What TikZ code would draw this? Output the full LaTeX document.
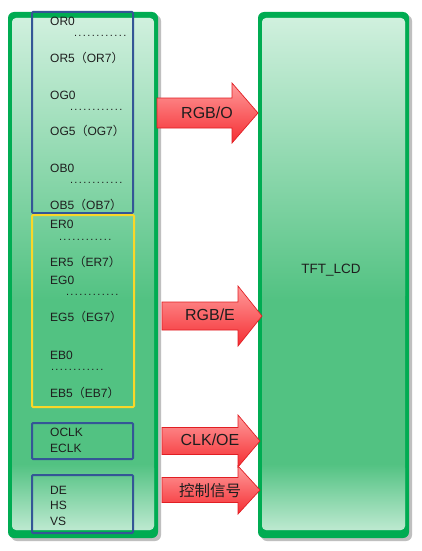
\documentclass[tikz,border=0pt]{standalone}
\usepackage{fontspec}
\setmainfont{Liberation Sans}
\newfontfamily\cjk{Noto Sans CJK SC}
\definecolor{gedge}{RGB}{0,172,82}
\definecolor{glight}{RGB}{208,240,222}
\definecolor{gmid}{RGB}{82,194,130}
\definecolor{bluebox}{RGB}{52,86,150}
\definecolor{yellowbox}{RGB}{250,215,40}
\definecolor{rlight}{RGB}{255,155,155}
\definecolor{rfill}{RGB}{245,45,50}
\definecolor{redge}{RGB}{225,30,35}
\definecolor{txt}{RGB}{30,30,30}
\newcommand\myLP{{\cjk （}}
\newcommand\myRP{{\cjk ）}}
\newcommand\mydots[1]{\makebox[#1]{\xleaders\hbox to 4.3pt{\hss.\hss}\hfill}}
\newcommand\myarrow[6]{%
  \shade[top color=rlight, bottom color=rfill, draw=redge, line width=0.7pt, line join=miter]
    (#1,#2-#3) -- (#4,#2-#3) -- (#4,#2-#5) -- (#6,#2) -- (#4,#2+#5) -- (#4,#2+#3) -- (#1,#2+#3) -- cycle;}
\newcommand\greenbox[4]{%
  \fill[black!25, rounded corners=6pt] (#1+3,#2+3) rectangle (#3+3,#4+3);
  \fill[gedge, rounded corners=6pt] (#1,#2) rectangle (#3,#4);
  \fill[gmid, rounded corners=4pt] (#1+4,#2+6) rectangle (#3-4,#4-8);
  \shade[top color=glight, bottom color=gmid, rounded corners=4pt] (#1+4,#2+6) rectangle (#3-4,300);
  \shade[top color=gmid, bottom color=glight!85!gmid, rounded corners=4pt] (#1+4,464) rectangle (#3-4,#4-8);}
\tikzset{
  sig/.style={anchor=west, inner sep=0pt, text=txt, font=\fontsize{12}{14}\selectfont},
  dotrow/.style={anchor=west, inner sep=0pt, text=txt, font=\fontsize{11}{12}\selectfont},
  arrowlbl/.style={inner sep=0pt, text=txt, font=\fontsize{16}{18}\selectfont},
  groupbox/.style={line width=2pt, rounded corners=1pt},
}
\begin{document}
\begin{tikzpicture}[x=1pt,y=-1pt]
\useasboundingbox (0,0) rectangle (421,551);
\fill[white] (0,0) rectangle (421,551);
% green blocks
\greenbox{8}{12}{158}{538}
\greenbox{258}{12}{409}{538}
% group boxes
\draw[groupbox, draw=bluebox] (32,12) rectangle (133,213);
\draw[groupbox, draw=yellowbox] (32,215) rectangle (134,407);
\draw[groupbox, draw=bluebox] (32,423) rectangle (133,459);
\draw[groupbox, draw=bluebox] (32,475) rectangle (133,533);
% signal names
\node[sig] (or0) at (50,21) {OR0};
\node[dotrow] (d1) at (73,36) {\mydots{54pt}};
\node[sig] (or5) at (50,58) {OR5\myLP OR7\myRP};
\node[sig] (og0) at (50,95) {OG0};
\node[dotrow] (d2) at (69,110) {\mydots{54pt}};
\node[sig] (og5) at (50,131) {OG5\myLP OG7\myRP};
\node[sig] (ob0) at (50,168) {OB0};
\node[dotrow] (d3) at (69,183) {\mydots{54pt}};
\node[sig] (ob5) at (50,205) {OB5\myLP OB7\myRP};
\node[sig] (er0) at (50,224) {ER0};
\node[dotrow] (d4) at (58,240) {\mydots{54pt}};
\node[sig] (er5) at (50,262) {ER5\myLP ER7\myRP};
\node[sig] (eg0) at (50,280) {EG0};
\node[dotrow] (d5) at (65,295) {\mydots{54pt}};
\node[sig] (eg5) at (50,317) {EG5\myLP EG7\myRP};
\node[sig] (eb0) at (50,355) {EB0};
\node[dotrow] (d6) at (50,370) {\mydots{54pt}};
\node[sig] (eb5) at (50,393) {EB5\myLP EB7\myRP};
\node[sig] (oclk) at (50,432) {OCLK};
\node[sig] (eclk) at (50,448) {ECLK};
\node[sig] (de) at (50,490) {DE};
\node[sig] (hs) at (50,505) {HS};
\node[sig] (vs) at (50,521) {VS};
% arrows
\myarrow{157}{113}{15}{232}{30}{258}
\myarrow{162}{316}{14}{238}{30}{262}
\myarrow{162}{441}{13.5}{238}{26}{260}
\myarrow{162}{490}{12.5}{238}{24}{260}
\node[arrowlbl] (rgbo) at (207,113) {RGB/O};
\node[arrowlbl] (rgbe) at (210,315) {RGB/E};
\node[arrowlbl] (clkoe) at (210,440) {CLK/OE};
\node[arrowlbl, font=\cjk\fontsize{15.5}{18}\selectfont] (ctrl) at (210,491) {控制信号};
% LCD label
\node[inner sep=0pt, text=txt, font=\fontsize{13.5}{16}\selectfont] (lcd) at (331,270) {TFT\_LCD};
\end{tikzpicture}
\end{document}
